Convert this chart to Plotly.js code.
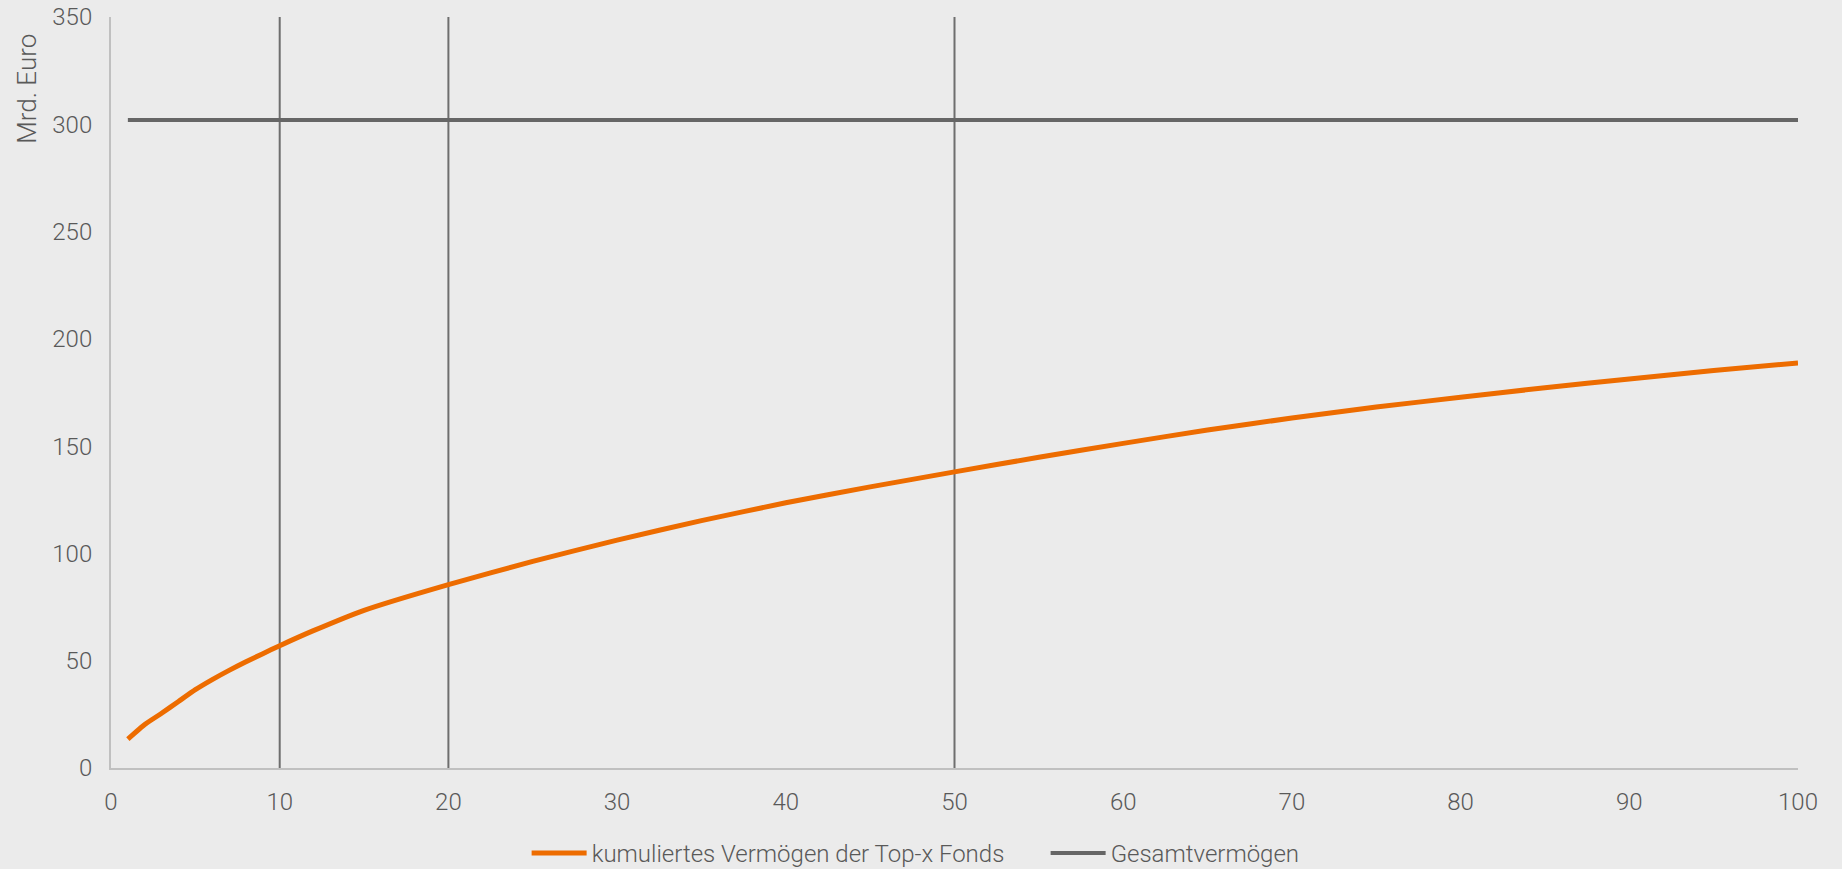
<!DOCTYPE html>
<html>
<head>
<meta charset="utf-8">
<script src="https://cdn.plot.ly/plotly-3.0.1.min.js"></script>
<style>
  html, body { margin: 0; padding: 0; background: #ebebeb; }
  #chart { width: 1842px; height: 869px; }
</style>
</head>
<body>
<div id="chart"></div>
<script>
// Anzahl der größten Fonds (Top-x)
const topX = [1, 2, 3, 4, 5, 6, 7, 8, 9, 10, 12, 15, 20, 25, 30, 35, 40, 45, 50, 55, 60, 65, 70, 75, 80, 85, 90, 95, 100];
// kumuliertes Vermögen der Top-x Fonds (Mrd. Euro)
const cumAssets = [13.5, 20.3, 25.5, 31, 36.5, 41.2, 45.5, 49.5, 53.3, 57, 64, 73.5, 85.5, 96.3, 106.2, 115.3, 123.6, 131.0, 138, 144.8, 151.3, 157.5, 163.1, 168.2, 172.8, 177.2, 181.3, 185.2, 188.8];
// Gesamtvermögen (Mrd. Euro)
const totalX = [1, 100];
const totalAssets = [302, 302];
// Markierungen
const markerX = [10, 20, 50];
const yMax = 350;

const seriesNames = ["kumuliertes Vermögen der Top-x Fonds", "Gesamtvermögen"];
const yTitle = "Mrd. Euro";

const font = { family: "Roboto, 'Liberation Sans', sans-serif", size: 24, color: "#595959", weight: 300 };
const titleFont = Object.assign({}, font, { size: 26 });

const traces = [];
markerX.forEach(function (mx) {
  traces.push({
    x: [mx, mx], y: [0, yMax], mode: "lines", showlegend: false, hoverinfo: "skip",
    line: { color: "#6e6e6e", width: 2 }
  });
});
traces.push({
  x: topX, y: cumAssets, name: seriesNames[0], mode: "lines",
  line: { color: "#ed6c00", width: 5, shape: "spline", smoothing: 0.5 }
});
traces.push({
  x: totalX, y: totalAssets, name: seriesNames[1], mode: "lines",
  line: { color: "#666666", width: 4 }
});

const layout = {
  width: 1842, height: 869,
  paper_bgcolor: "#ebebeb", plot_bgcolor: "#ebebeb",
  font: font,
  margin: { l: 111, r: 44, t: 17, b: 101 },
  xaxis: {
    range: [0, 100], dtick: 10, tick0: 0, showgrid: false, zeroline: false,
    showline: true, linecolor: "#c0c0c0", linewidth: 2, ticks: "",
    tickfont: font, ticklabelstandoff: 11
  },
  yaxis: {
    range: [0, yMax], dtick: 50, tick0: 0, showgrid: false, zeroline: false,
    showline: true, linecolor: "#c0c0c0", linewidth: 2, ticks: "",
    tickfont: font, ticklabelstandoff: 12
  },
  annotations: [{
    text: yTitle, textangle: -90, xref: "paper", yref: "paper",
    x: -0.05, xanchor: "center", y: 0.98, yanchor: "top",
    showarrow: false, font: titleFont
  }],
  legend: {
    orientation: "h", x: 0.2859, xanchor: "left", xref: "container",
    y: 0.018, yanchor: "middle", yref: "container",
    font: font, bgcolor: "rgba(0,0,0,0)", itemwidth: 55, entrywidth: 449
  },
  showlegend: true
};

Plotly.newPlot("chart", traces, layout, { displayModeBar: false, staticPlot: true });
</script>
</body>
</html>
